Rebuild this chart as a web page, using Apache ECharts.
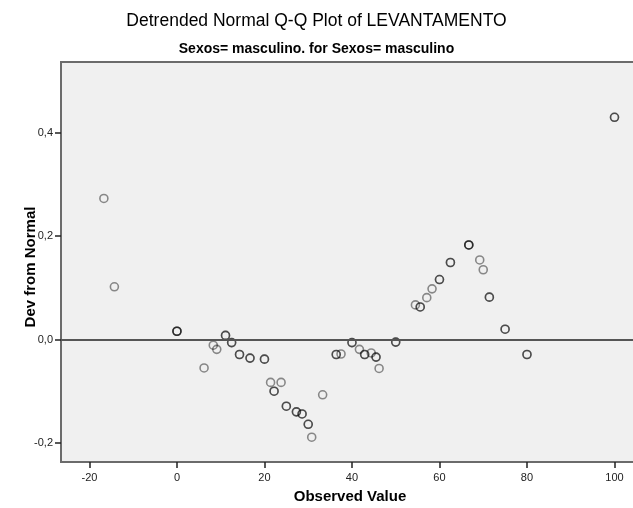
<!DOCTYPE html>
<html>
<head>
<meta charset="utf-8">
<script src="https://cdn.jsdelivr.net/npm/echarts@6/dist/echarts.min.js"></script>
<style>
  html, body { margin: 0; padding: 0; background: #ffffff; }
  #chart { width: 633px; height: 508px; }
</style>
</head>
<body>
<div id="chart"></div>
<script>
// Observed values (tied cases repeat, so their circles overlap and darken)
const observedValue = [
  -16.7, -14.3, 0, 0, 0, 6.2, 8.3, 9.1, 11.1, 11.1, 12.5, 12.5, 14.3, 14.3,
  16.7, 16.7, 20.0, 20.0, 21.4, 22.2, 22.2, 23.8, 25.0, 25.0, 27.3, 27.3,
  28.6, 28.6, 30.0, 30.0, 30.8, 33.3, 36.4, 36.4, 37.5, 40.0, 40.0, 41.7,
  42.9, 42.9, 44.4, 45.5, 45.5, 46.2, 50.0, 50.0, 54.5, 55.6, 55.6, 57.1,
  58.3, 60.0, 60.0, 62.5, 62.5, 66.7, 66.7, 66.7, 69.2, 70.0, 71.4, 71.4,
  75.0, 75.0, 80.0, 80.0, 100.0, 100.0
];
// Deviation of each case from the normal expectation
const devFromNormal = [
  0.273, 0.102, 0.016, 0.016, 0.016, -0.055, -0.011, -0.019, 0.008, 0.008, -0.006, -0.006, -0.029, -0.029,
  -0.036, -0.036, -0.038, -0.038, -0.083, -0.100, -0.100, -0.083, -0.129, -0.129, -0.140, -0.140,
  -0.144, -0.144, -0.164, -0.164, -0.189, -0.107, -0.029, -0.029, -0.028, -0.006, -0.006, -0.019,
  -0.029, -0.029, -0.026, -0.034, -0.034, -0.056, -0.005, -0.005, 0.067, 0.063, 0.063, 0.081,
  0.098, 0.116, 0.116, 0.149, 0.149, 0.183, 0.183, 0.183, 0.154, 0.135, 0.082, 0.082,
  0.020, 0.020, -0.029, -0.029, 0.430, 0.430
];
const xTicks = [-20, 0, 20, 40, 60, 80, 100];
const yTicks = [-0.2, 0.0, 0.2, 0.4];

const points = observedValue.map((v, i) => [v, devFromNormal[i]]);
const FONT = 'Liberation Sans, Arial, sans-serif';
const axisGray = '#6b6b6b';

const chart = echarts.init(document.getElementById('chart'), null, { renderer: 'canvas' });
chart.setOption({
  animation: false,
  backgroundColor: '#ffffff',
  title: [
    {
      text: 'Detrended Normal Q-Q Plot of LEVANTAMENTO',
      left: 'center', top: 7,
      textStyle: { fontFamily: FONT, fontSize: 17.5, fontWeight: 'normal', color: '#000' }
    },
    {
      text: 'Sexos= masculino. for Sexos= masculino',
      left: 'center', top: 37,
      textStyle: { fontFamily: FONT, fontSize: 14, fontWeight: 'bold', color: '#000' }
    }
  ],
  grid: {
    left: 61, top: 62, right: -6, bottom: 46,
    outerBoundsMode: 'none', containLabel: false,
    show: true, backgroundColor: '#f0f0f0',
    borderColor: axisGray, borderWidth: 2
  },
  xAxis: {
    type: 'value', min: -26.5, max: 105.6,
    name: 'Observed Value', nameLocation: 'middle', nameGap: 27, nameMoveOverlap: false,
    nameTextStyle: { fontFamily: FONT, fontSize: 15, fontWeight: 'bold', color: '#000' },
    axisLine: { show: true, onZero: false, lineStyle: { color: axisGray, width: 2 } },
    axisTick: { show: true, length: 6, customValues: xTicks, lineStyle: { color: '#222', width: 1.5 } },
    axisLabel: { customValues: xTicks, margin: 10, fontFamily: FONT, fontSize: 11, color: '#222' },
    splitLine: { show: false }
  },
  yAxis: {
    type: 'value', min: -0.237, max: 0.537,
    name: 'Dev from Normal', nameLocation: 'middle', nameGap: 23, nameRotate: 90, nameMoveOverlap: false,
    nameTextStyle: {
      fontFamily: FONT, fontSize: 15, fontWeight: 'bold', color: '#000',
      padding: [0, 10, 0, 0]
    },
    axisLine: { show: true, onZero: false, lineStyle: { color: axisGray, width: 2 } },
    axisTick: { show: true, length: 6, customValues: yTicks, lineStyle: { color: '#222', width: 1.5 } },
    axisLabel: {
      customValues: yTicks, margin: 8, fontFamily: FONT, fontSize: 11, color: '#222',
      formatter: v => v.toFixed(1).replace('.', ',')
    },
    splitLine: { show: false }
  },
  series: [{
    type: 'scatter',
    data: points,
    symbol: 'circle',
    symbolSize: 8,
    itemStyle: { color: 'rgba(0,0,0,0)', borderColor: 'rgba(0,0,0,0.55)', borderWidth: 1.6 },
    markLine: {
      silent: true, symbol: 'none', label: { show: false },
      lineStyle: { color: '#555', width: 2, type: 'solid' },
      data: [{ yAxis: 0 }]
    },
    z: 3
  }]
});
</script>
</body>
</html>
